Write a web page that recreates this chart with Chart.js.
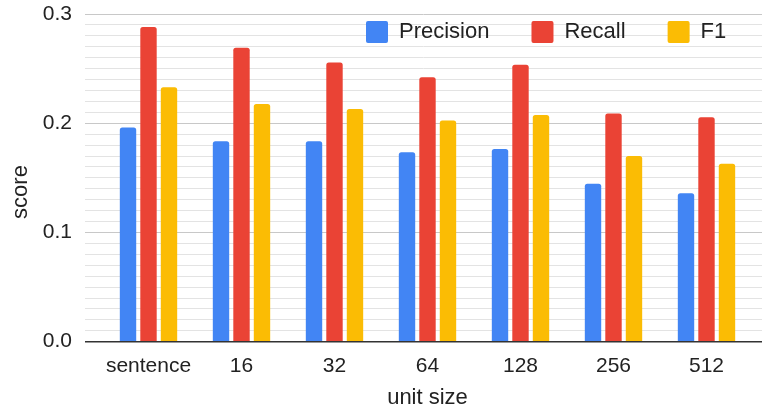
<!DOCTYPE html>
<html>
<head>
<meta charset="utf-8">
<script src="https://cdn.jsdelivr.net/npm/chart.js@4.4.0/dist/chart.umd.min.js"></script>
<style>
  html, body { margin: 0; padding: 0; background: #fff; }
  #wrap { width: 762px; height: 411px; }
</style>
</head>
<body>
<div id="wrap"><canvas id="scoreChart"></canvas></div>
<script>
// --- data ---
const unitSizes = ['sentence', '16', '32', '64', '128', '256', '512'];
const precision = [0.196, 0.1835, 0.1835, 0.1735, 0.1765, 0.1445, 0.136];
const recall    = [0.288, 0.269, 0.2555, 0.242, 0.2535, 0.209, 0.2055];
const f1        = [0.233, 0.2175, 0.213, 0.2025, 0.2075, 0.170, 0.163];
const yMax = 0.3;
const yMinorStep = 0.01;

Chart.defaults.font.family = '"Liberation Sans", Arial, sans-serif';
Chart.defaults.color = '#222';

// move the legend into the plot and pull the categories in from the gridline ends
const layoutTweaks = {
    id: 'layoutTweaks',
    afterLayout(chart) {
        const area = chart.chartArea;
        const x = chart.scales.x;
        x.left = area.left + 17;
        x.right = area.right - 9;
        x.width = x.right - x.left;
        x.configure();

        // y title sits a bit below the middle of the axis (ticks already configured)
        chart.scales.y.top = area.bottom - 2 * (area.bottom - 192);

        const legend = chart.legend;
        const pad = legend.options.labels.padding;
        legend.left = 366 - pad;
        legend.right = chart.width + 100;
        legend.top = 21 - pad;
        legend.bottom = 60;
        legend.width = legend.right - legend.left;
        legend.height = legend.bottom - legend.top;
    }
};

const ctx = document.getElementById('scoreChart');
new Chart(ctx, {
    type: 'bar',
    data: {
        labels: unitSizes,
        datasets: [
            { label: 'Precision', data: precision, backgroundColor: '#4285F4' },
            { label: 'Recall', data: recall, backgroundColor: '#EA4335' },
            { label: 'F1', data: f1, backgroundColor: '#FBBC04' }
        ]
    },
    options: {
        responsive: true,
        maintainAspectRatio: false,
        animation: false,
        layout: { padding: { top: 14, right: 0, bottom: 0, left: 0 } },
        datasets: {
            bar: {
                categoryPercentage: 0.661,
                barPercentage: 0.8,
                borderWidth: 0,
                borderRadius: 2.5,
                clip: false
            }
        },
        plugins: {
            tooltip: { enabled: false },
            legend: {
                position: 'top',
                align: 'start',
                maxHeight: 0.01,
                labels: {
                    boxWidth: 22,
                    boxHeight: 22,
                    padding: 42,
                    useBorderRadius: true,
                    borderRadius: 2,
                    font: { size: 22 }
                }
            }
        },
        scales: {
            x: {
                grid: { display: false },
                border: { display: false },
                ticks: { autoSkip: false, padding: 4, font: { size: 21 } },
                title: {
                    display: true,
                    text: 'unit size',
                    font: { size: 22 },
                    padding: { top: 0, bottom: 0 }
                },
                afterFit: function(scale) { scale.height = 69.3; }
            },
            y: {
                min: 0,
                max: yMax,
                border: { display: false },
                grid: {
                    drawTicks: false,
                    color: function(c) {
                        const v = Math.round(c.tick.value * 100);
                        if (v === 0) return '#333333';
                        return v % 10 === 0 ? '#c8c8c8' : '#e3e3e3';
                    },
                    lineWidth: function(c) {
                        return Math.round(c.tick.value * 100) === 0 ? 1.5 : 1;
                    }
                },
                ticks: {
                    stepSize: yMinorStep,
                    autoSkip: false,
                    padding: 13,
                    font: { size: 21 },
                    callback: function(value) {
                        return Math.round(value * 100) % 10 === 0 ? value.toFixed(1) : '';
                    }
                },
                title: {
                    display: true,
                    text: 'score',
                    font: { size: 22 },
                    padding: { top: 8, bottom: 0 }
                },
                afterFit: function(scale) {
                    scale.width = 85;
                    scale.paddingTop = 0;
                    scale.paddingBottom = 0;
                }
            }
        }
    },
    plugins: [layoutTweaks]
});
</script>
</body>
</html>
